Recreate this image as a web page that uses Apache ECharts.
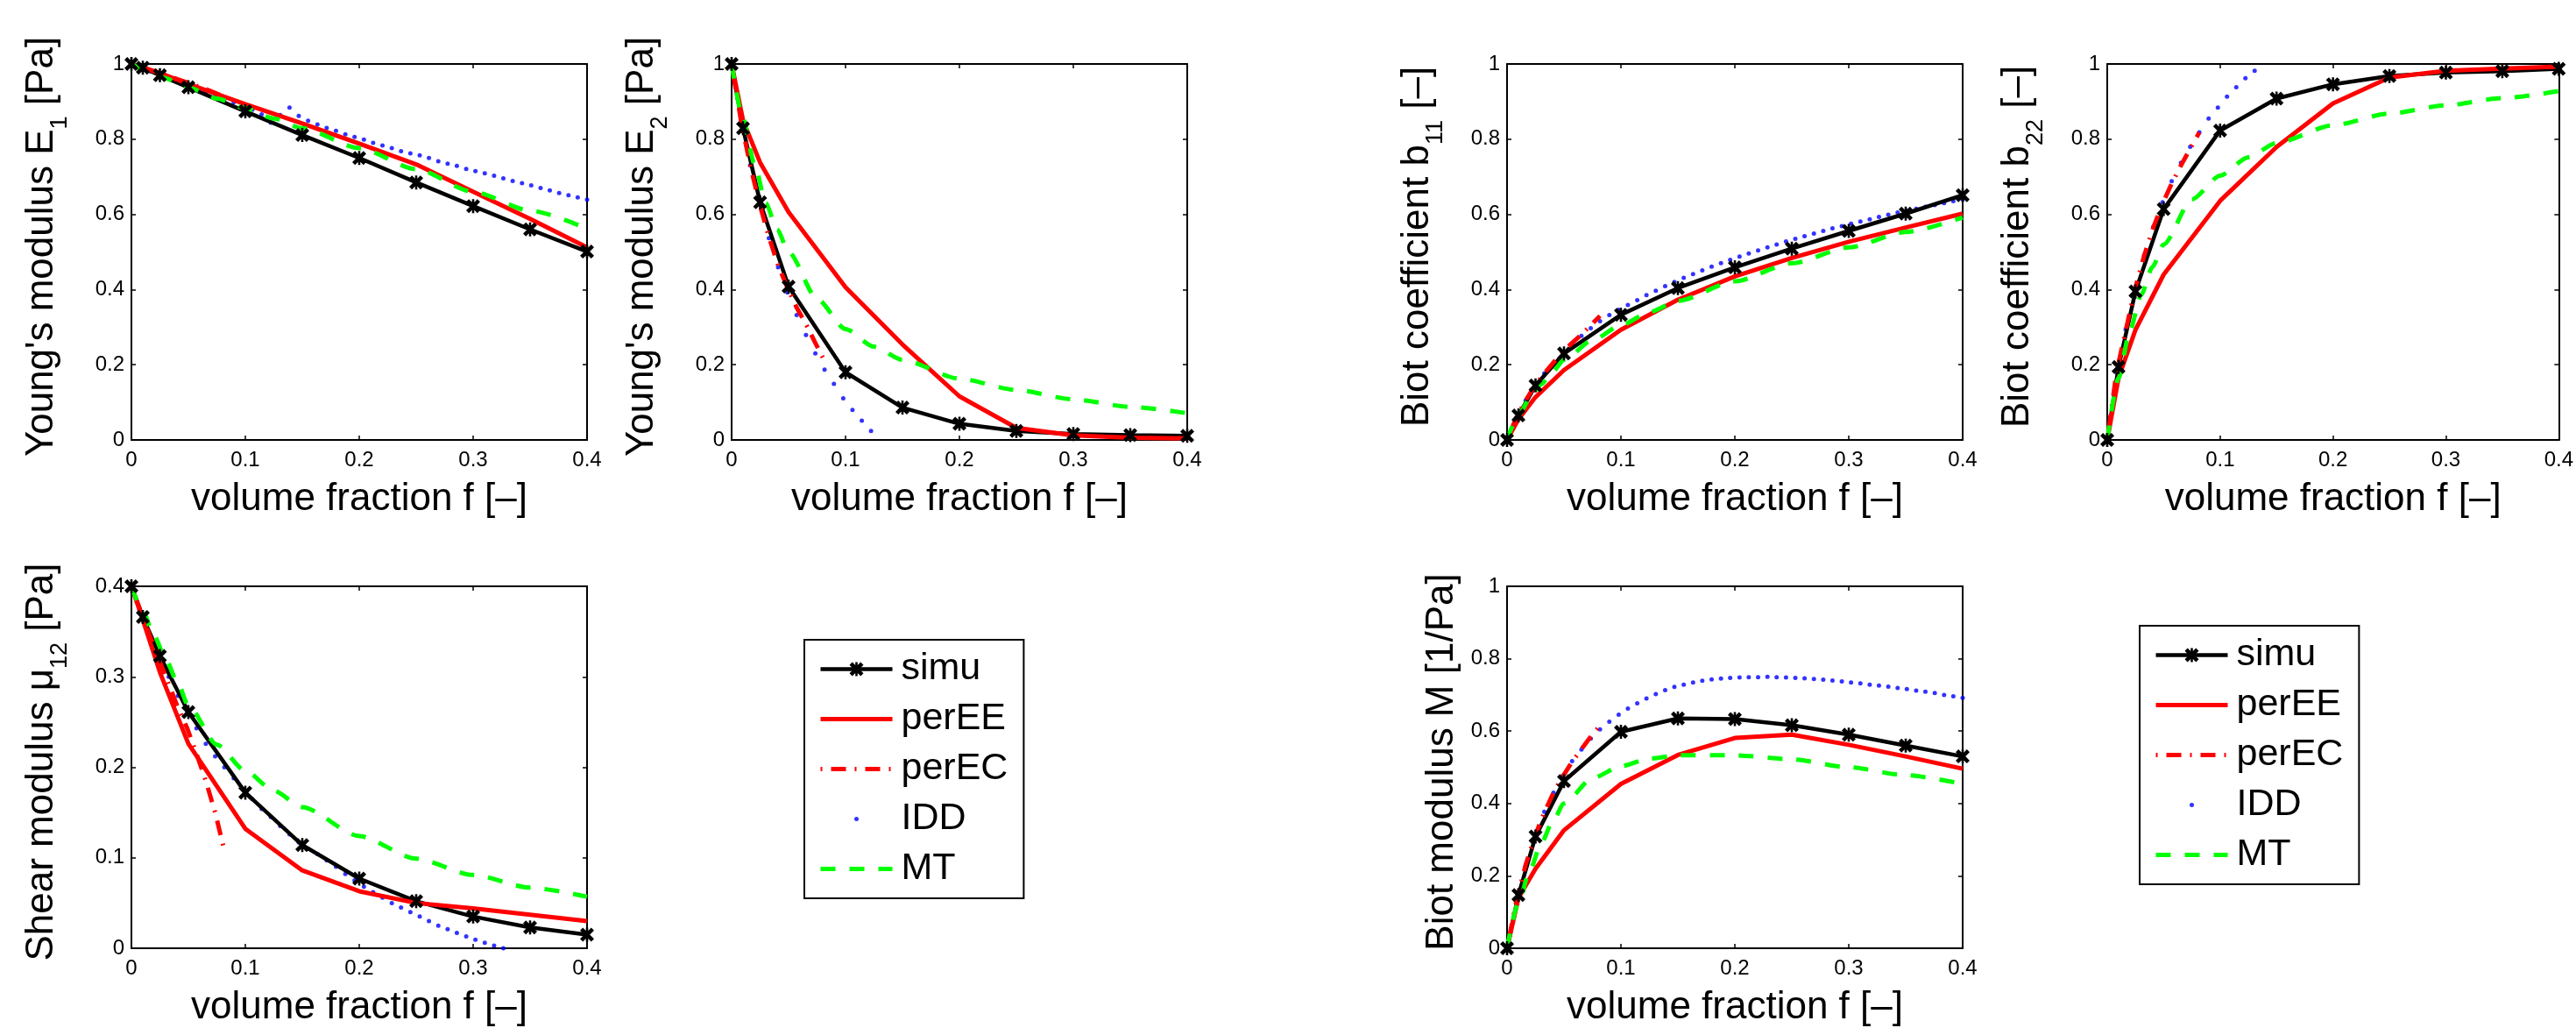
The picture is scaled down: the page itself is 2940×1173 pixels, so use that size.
<!DOCTYPE html>
<html><head><meta charset="utf-8">
<script src="https://cdn.jsdelivr.net/npm/echarts@6/dist/echarts.min.js"></script>
<style>html,body{margin:0;padding:0;background:#fff}#c{width:2940px;height:1173px}</style>
</head><body><div id="c"></div>
<script>
// ---------- x grids ----------
const fSimu = [0, 0.01, 0.025, 0.05, 0.1, 0.15, 0.2, 0.25, 0.3, 0.35, 0.4];
const fIDD = [0, 0.0082, 0.0163, 0.0245, 0.0327, 0.0408, 0.049, 0.0571, 0.0653, 0.0735,
  0.0816, 0.0898, 0.098, 0.1061, 0.1143, 0.1224, 0.1306, 0.1388, 0.1469, 0.1551,
  0.1633, 0.1714, 0.1796, 0.1878, 0.1959, 0.2041, 0.2122, 0.2204, 0.2286, 0.2367,
  0.2449, 0.2531, 0.2612, 0.2694, 0.2776, 0.2857, 0.2939, 0.302, 0.3102, 0.3184,
  0.3265, 0.3347, 0.3429, 0.351, 0.3592, 0.3673, 0.3755, 0.3837, 0.3918, 0.4];
const fMT = [0, 0.01, 0.02, 0.03, 0.04, 0.05, 0.075, 0.1, 0.125, 0.15, 0.2, 0.25, 0.3, 0.35, 0.4];
const xTickLabels = ['0', '0.1', '0.2', '0.3', '0.4'];
const seriesNames = ['simu', 'perEE', 'perEC', 'IDD', 'MT'];

// ---------- Young's modulus E1 ----------
const simuE1 = [1.0, 0.99, 0.97, 0.938, 0.874, 0.811, 0.75, 0.685, 0.622, 0.56, 0.501];
const perEEE1 = [1.0, 0.991, 0.976, 0.947, 0.893, 0.842, 0.788, 0.733, 0.66, 0.588, 0.512];
const perECE1 = [1.0, 0.992, 0.984, 0.976, 0.968, 0.959, 0.951, 0.942, 0.933, 0.923, 0.913];
const iddE1 = [1.0, 0.991, 0.981, 0.972, 0.963, 0.954, 0.944, 0.935, 0.926, 0.917,
  0.907, 0.898, 0.888, 0.878, 0.866, 0.844, 0.864, 0.884, 0.862, 0.849,
  0.839, 0.830, 0.822, 0.813, 0.806, 0.799, 0.790, 0.783, 0.776, 0.768,
  0.762, 0.757, 0.750, 0.741, 0.735, 0.729, 0.721, 0.715, 0.709, 0.703,
  0.696, 0.689, 0.683, 0.677, 0.670, 0.664, 0.657, 0.651, 0.645, 0.639];
const mtE1 = [1.0, 0.987, 0.975, 0.962, 0.95, 0.937, 0.908, 0.882, 0.855, 0.829, 0.776, 0.72, 0.66, 0.61, 0.562];

// ---------- Young's modulus E2 ----------
const simuE2 = [1.0, 0.829, 0.632, 0.408, 0.18, 0.086, 0.043, 0.024, 0.016, 0.013, 0.011];
const perEEE2 = [1.0, 0.85, 0.738, 0.606, 0.406, 0.254, 0.116, 0.032, 0.012, 0.006, 0.004];
const perECE2 = [1.0, 0.85, 0.73, 0.628, 0.54, 0.465, 0.405, 0.352, 0.308, 0.258, 0.21];
const iddE2 = [1.0, 0.853, 0.731, 0.628, 0.537, 0.459, 0.392, 0.332, 0.279, 0.230, 0.187, 0.149, 0.111, 0.080, 0.051, 0.024];
const mtE2 = [1.0, 0.855, 0.735, 0.63, 0.56, 0.5, 0.375, 0.295, 0.248, 0.213, 0.163, 0.133, 0.108, 0.088, 0.071];

// ---------- Biot coefficient b11 ----------
const simuB11 = [0, 0.065, 0.145, 0.23, 0.333, 0.404, 0.459, 0.509, 0.556, 0.602, 0.651];
const perEEB11 = [0, 0.055, 0.114, 0.186, 0.293, 0.373, 0.435, 0.484, 0.527, 0.565, 0.602];
const perECB11 = [0, 0.06, 0.105, 0.145, 0.177, 0.206, 0.235, 0.258, 0.28, 0.305, 0.33];
const iddB11 = [0, 0.058, 0.105, 0.145, 0.177, 0.206, 0.233, 0.256, 0.277, 0.297,
  0.316, 0.332, 0.346, 0.359, 0.372, 0.385, 0.397, 0.409, 0.42, 0.431,
  0.441, 0.451, 0.461, 0.47, 0.479, 0.488, 0.496, 0.504, 0.512, 0.52,
  0.528, 0.535, 0.542, 0.549, 0.556, 0.563, 0.569, 0.575, 0.581, 0.587,
  0.593, 0.599, 0.605, 0.61, 0.615, 0.62, 0.625, 0.63, 0.635, 0.64];
const mtB11 = [0, 0.065, 0.11, 0.148, 0.182, 0.213, 0.265, 0.305, 0.34, 0.37, 0.422, 0.47, 0.512, 0.553, 0.592];

// ---------- Biot coefficient b22 ----------
const simuB22 = [0, 0.194, 0.395, 0.614, 0.823, 0.908, 0.946, 0.968, 0.977, 0.981, 0.987];
const perEEB22 = [0, 0.165, 0.293, 0.44, 0.636, 0.779, 0.895, 0.964, 0.982, 0.988, 0.993];
const perECB22 = [0, 0.18, 0.29, 0.40, 0.49, 0.565, 0.628, 0.682, 0.73, 0.775, 0.818];
const iddB22 = [0, 0.18, 0.294, 0.402, 0.491, 0.567, 0.632, 0.688, 0.737, 0.78, 0.818, 0.855, 0.884, 0.913, 0.938, 0.962, 0.982];
const mtB22 = [0, 0.165, 0.29, 0.385, 0.46, 0.52, 0.64, 0.703, 0.752, 0.79, 0.837, 0.868, 0.89, 0.909, 0.928];

// ---------- Shear modulus mu12 ----------
const simuMu = [0.4, 0.366, 0.323, 0.261, 0.172, 0.114, 0.077, 0.052, 0.035, 0.023, 0.015];
const perEEMu = [0.4, 0.363, 0.305, 0.226, 0.132, 0.086, 0.063, 0.05, 0.044, 0.037, 0.03];
const perECMu = [0.4, 0.372, 0.345, 0.318, 0.292, 0.266, 0.243, 0.215, 0.185, 0.15, 0.108];
const iddMu = [0.4, 0.372, 0.346, 0.322, 0.3, 0.279, 0.26, 0.243, 0.226, 0.212,
  0.2, 0.188, 0.176, 0.165, 0.154, 0.145, 0.135, 0.126, 0.117, 0.11,
  0.104, 0.097, 0.09, 0.082, 0.075, 0.068, 0.062, 0.056, 0.05, 0.045,
  0.04, 0.035, 0.03, 0.025, 0.021, 0.017, 0.013, 0.0095, 0.006, 0.003, 0];
const mtMu = [0.4, 0.373, 0.345, 0.32, 0.295, 0.268, 0.225, 0.196, 0.174, 0.156, 0.124, 0.099, 0.081, 0.067, 0.057];

// ---------- Biot modulus M ----------
const simuM = [0, 0.147, 0.309, 0.462, 0.598, 0.635, 0.633, 0.616, 0.59, 0.56, 0.53];
const perEEM = [0, 0.139, 0.22, 0.326, 0.454, 0.534, 0.581, 0.59, 0.562, 0.53, 0.496];
const perECM = [0, 0.13, 0.23, 0.31, 0.375, 0.43, 0.475, 0.515, 0.55, 0.585, 0.615];
const iddM = [0, 0.126, 0.228, 0.309, 0.377, 0.43, 0.477, 0.517, 0.549, 0.579,
  0.605, 0.626, 0.645, 0.662, 0.677, 0.69, 0.702, 0.713, 0.722, 0.728,
  0.734, 0.739, 0.743, 0.745, 0.747, 0.748, 0.749, 0.749, 0.75, 0.749,
  0.748, 0.747, 0.746, 0.744, 0.742, 0.74, 0.737, 0.734, 0.732, 0.728,
  0.726, 0.723, 0.719, 0.716, 0.712, 0.709, 0.705, 0.7, 0.696, 0.692];
const mtM = [0, 0.125, 0.215, 0.29, 0.35, 0.4, 0.47, 0.503, 0.524, 0.533, 0.533, 0.522, 0.5, 0.478, 0.454];

// ---------- panels ----------
const FONT = "'Liberation Sans', Arial, Helvetica, sans-serif";
const panels = [
  {grid: {left: 150, top: 73}, yMax: 1, yInt: 0.2, name: ["Young's modulus E", '1', ' [Pa]'], gap: 68,
   simu: simuE1, perEE: perEEE1, perEC: perECE1, idd: iddE1, mt: mtE1},
  {grid: {left: 835, top: 73}, yMax: 1, yInt: 0.2, name: ["Young's modulus E", '2', ' [Pa]'], gap: 68,
   simu: simuE2, perEE: perEEE2, perEC: perECE2, idd: iddE2, mt: mtE2},
  {grid: {left: 1720, top: 73}, yMax: 1, yInt: 0.2, name: ['Biot coefficient b', '11', ' [–]'], gap: 68,
   simu: simuB11, perEE: perEEB11, perEC: perECB11, idd: iddB11, mt: mtB11},
  {grid: {left: 2405, top: 73}, yMax: 1, yInt: 0.2, name: ['Biot coefficient b', '22', ' [–]'], gap: 68,
   simu: simuB22, perEE: perEEB22, perEC: perECB22, idd: iddB22, mt: mtB22},
  {grid: {left: 150, top: 669}, yMax: 0.4, yInt: 0.1, name: ['Shear modulus μ', '12', ' [Pa]'], gap: 68,
   simu: simuMu, perEE: perEEMu, perEC: perECMu, idd: iddMu, mt: mtMu},
  {grid: {left: 1720, top: 669}, yMax: 1, yInt: 0.2, name: ['Biot modulus M [1/Pa]', '', ''], gap: 52,
   simu: simuM, perEE: perEEM, perEC: perECM, idd: iddM, mt: mtM}
];
const GW = 520, GH = 429;

const zip = (xs, ys) => ys.map((y, i) => [xs[i], y]);
const XMARK = 'path://M0 2 L2 0 L5 3 L8 0 L10 2 L7 5 L10 8 L8 10 L5 7 L2 10 L0 8 L3 5 Z M4.2 0 L5.8 0 L5.8 10 L4.2 10 Z';

const grids = [], xAxes = [], yAxes = [], series = [];
const axisLine = {show: true, onZero: false, lineStyle: {color: '#000', width: 2}};
const tick = {show: true, inside: true, length: 5, lineStyle: {color: '#000', width: 1.5}};
const labelStyle = {fontFamily: FONT, fontSize: 24, color: '#000'};

panels.forEach((p, i) => {
  grids.push({left: p.grid.left, top: p.grid.top, width: GW, height: GH, containLabel: false});
  xAxes.push({type: 'value', gridIndex: i, position: 'bottom', min: 0, max: 0.4, interval: 0.1,
    axisLine, axisTick: tick, splitLine: {show: false},
    axisLabel: Object.assign({margin: 11, formatter: v => xTickLabels[Math.round(v * 10)]}, labelStyle),
    name: 'volume fraction f [–]', nameLocation: 'middle', nameGap: 46,
    nameTextStyle: {fontFamily: FONT, fontSize: 44, color: '#000', lineHeight: 44}});
  const n = p.name;
  const nameStr = n[1] ? `{a|${n[0]}}{s|${n[1]}}{a|${n[2]}}` : `{a|${n[0]}}`;
  yAxes.push({type: 'value', gridIndex: i, position: 'left', min: 0, max: p.yMax, interval: p.yInt,
    axisLine, axisTick: tick, splitLine: {show: false},
    axisLabel: Object.assign({margin: 8}, labelStyle),
    name: nameStr, nameLocation: 'middle', nameGap: p.gap,
    nameTextStyle: {fontFamily: FONT, fontSize: 44, color: '#000', padding: [0, 0, 0, 12],
      rich: {
        a: {fontFamily: FONT, fontSize: 44, color: '#000', lineHeight: 44, verticalAlign: 'top'},
        s: {fontFamily: FONT, fontSize: 27, color: '#000', lineHeight: 56, verticalAlign: 'bottom'}
      }}});
});
panels.forEach((p, i) => {
  xAxes.push({type: 'value', gridIndex: i, position: 'top', min: 0, max: 0.4, interval: 0.1,
    axisLine, axisTick: tick, splitLine: {show: false}, axisLabel: {show: false}});
  yAxes.push({type: 'value', gridIndex: i, position: 'right', min: 0, max: p.yMax, interval: p.yInt,
    axisLine, axisTick: tick, splitLine: {show: false}, axisLabel: {show: false}});
});

panels.forEach((p, i) => {
  const base = {xAxisIndex: i, yAxisIndex: i, animation: false, silent: true};
  series.push(Object.assign({}, base, {name: 'simu', type: 'line', data: zip(fSimu, p.simu),
    symbol: XMARK, symbolSize: 16, showSymbol: true,
    lineStyle: {color: '#000', width: 4.5}, itemStyle: {color: '#000'}}));
  series.push(Object.assign({}, base, {name: 'perEE', type: 'line', data: zip(fSimu, p.perEE),
    symbol: 'none', showSymbol: false,
    lineStyle: {color: '#ff0000', width: 5}, itemStyle: {color: '#ff0000'}}));
  series.push(Object.assign({}, base, {name: 'perEC', type: 'line', data: zip(fIDD, p.perEC),
    symbol: 'none', showSymbol: false,
    lineStyle: {color: '#ff0000', width: 5, type: [2, 10, 17, 10]}, itemStyle: {color: '#ff0000'}}));
  series.push(Object.assign({}, base, {name: 'IDD', type: 'scatter', data: zip(fIDD, p.idd),
    symbol: 'circle', symbolSize: 5, itemStyle: {color: '#0000ff'}}));
  series.push(Object.assign({}, base, {name: 'MT', type: 'line', data: zip(fMT, p.mt),
    symbol: 'none', showSymbol: false, smooth: 0.25, smoothMonotone: 'x',
    lineStyle: {color: '#00ff00', width: 5, type: [17, 16]}, itemStyle: {color: '#00ff00'}}));
});

const DOT = 'path://M0 0 L0.01 0 L0 0.01 Z M82 20 L81.99 20 L82 19.99 Z M38.5 10 A2.5 2.5 0 1 0 43.5 10 A2.5 2.5 0 1 0 38.5 10 Z';
const HIDE = {color: 'rgba(0,0,0,0)', borderWidth: 0, borderColor: 'rgba(0,0,0,0)', opacity: 0};
const legendData = [
  {name: 'simu'},
  {name: 'perEE', itemStyle: HIDE},
  {name: 'perEC', itemStyle: HIDE},
  {name: 'IDD', icon: DOT},
  {name: 'MT', itemStyle: HIDE}
];
const legendBase = {orient: 'vertical', data: legendData, itemWidth: 82, itemHeight: 20, itemGap: 14,
  padding: [12, 18, 12, 16], borderColor: '#000', borderWidth: 2, borderRadius: 0, backgroundColor: '#fff',
  selectedMode: false, inactiveColor: '#000',
  lineStyle: {width: 'inherit'},
  textStyle: {fontFamily: FONT, fontSize: 43, color: '#000', lineHeight: 43, padding: [0, 0, 0, 5]}};

const chart = echarts.init(document.getElementById('c'), null, {renderer: 'canvas'});
chart.setOption({
  animation: false,
  backgroundColor: '#fff',
  grid: grids, xAxis: xAxes, yAxis: yAxes, series,
  legend: [
    Object.assign({left: 918, top: 730}, legendBase),
    Object.assign({left: 2442, top: 714}, legendBase)
  ]
});
</script></body></html>
